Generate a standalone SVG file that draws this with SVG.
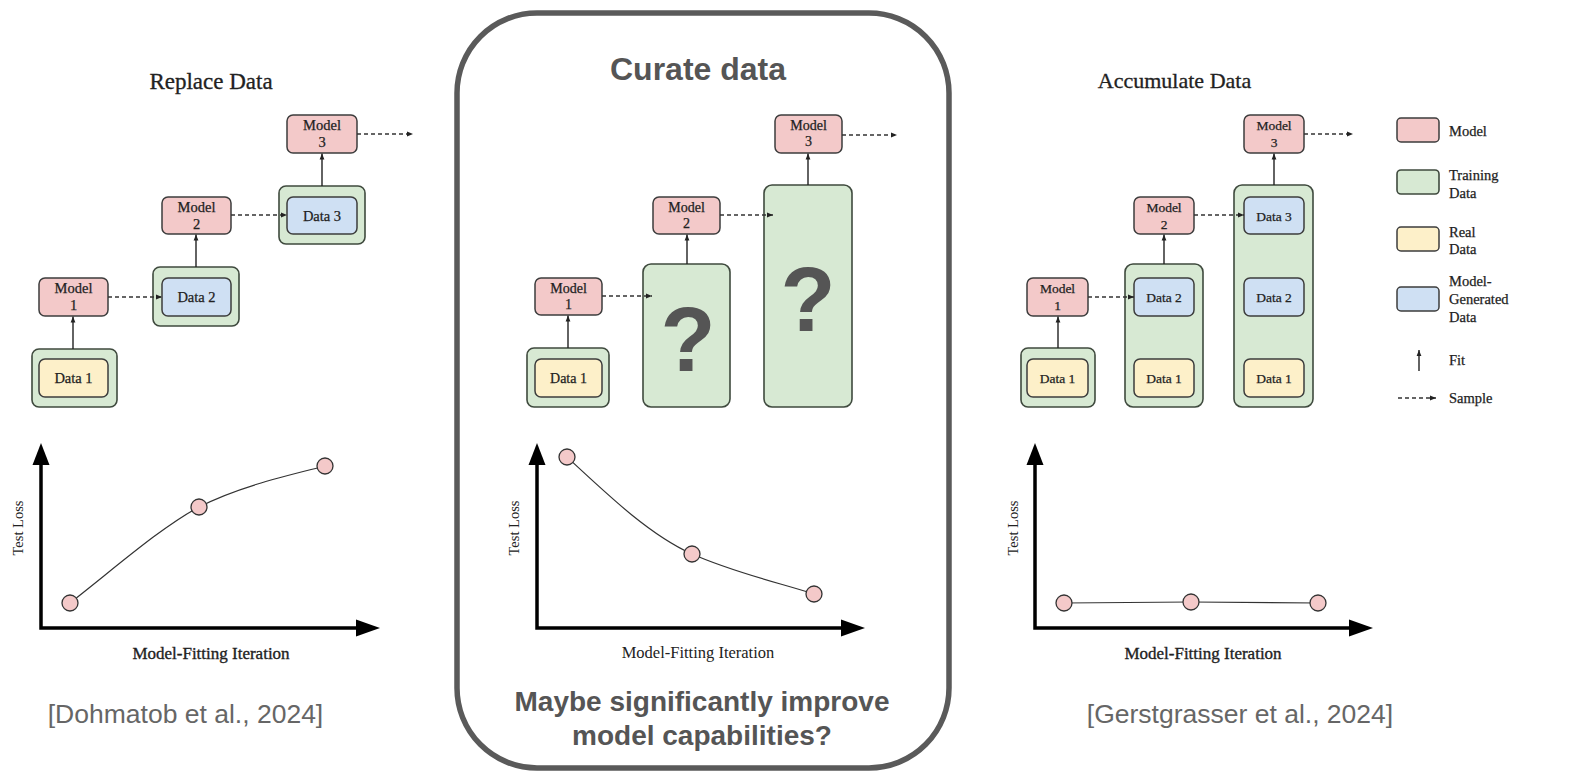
<svg xmlns="http://www.w3.org/2000/svg" width="1591" height="772" viewBox="0 0 1591 772">
  <defs>
    <style>
      .model { fill: #f3c9c9; stroke: #3d3d3d; stroke-width: 1.5; }
      .train { fill: #d7e9d3; stroke: #3f4a3e; stroke-width: 1.6; }
      .real { fill: #fdf0c9; stroke: #3d3d3d; stroke-width: 1.5; }
      .gen { fill: #cfe0f3; stroke: #3d3d3d; stroke-width: 1.5; }
      .lbl { font-family: "Liberation Serif", "Times New Roman", serif; fill: #222; stroke: #222; stroke-width: 0.25; text-anchor: middle; }
      .n1 { font-size: 14.5px; }
      .n2 { font-size: 14px; }
      .n3 { font-size: 13.5px; }
      .title { font-family: "Liberation Serif", "Times New Roman", serif; fill: #222; stroke: #222; stroke-width: 0.3; text-anchor: middle; }
      .leg { font-family: "Liberation Serif", "Times New Roman", serif; fill: #222; stroke: #222; stroke-width: 0.25; font-size: 14.5px; }
      .fit { stroke: #222; stroke-width: 1.4; fill: none; marker-end: url(#fitHead); }
      .smp { stroke: #333; stroke-width: 1.5; fill: none; stroke-dasharray: 4 3; marker-end: url(#smpHead); }
      .axis { stroke: #000; stroke-width: 3.5; fill: none; }
      .head { fill: #000; }
      .curve { stroke: #333; stroke-width: 1.2; fill: none; }
      .pt { fill: #f4c9c9; stroke: #333; stroke-width: 1.3; }
      .axlbl { font-family: "Liberation Serif", "Times New Roman", serif; fill: #222; text-anchor: middle; }
      .xl { stroke: #222; stroke-width: 0.35; }
      .cite { font-family: "Liberation Sans", Arial, sans-serif; fill: #666; font-size: 26.5px; text-anchor: middle; }
      .bigq { font-family: "Liberation Sans", Arial, sans-serif; font-weight: bold; fill: #555; font-size: 90px; text-anchor: middle; }
      .hl { font-family: "Liberation Sans", Arial, sans-serif; font-weight: bold; fill: #555; text-anchor: middle; }
    </style>
    <marker id="fitHead" viewBox="0 0 10 10" refX="10" refY="5" markerWidth="6" markerHeight="6" markerUnits="userSpaceOnUse" orient="auto">
      <path d="M0,1 L10,5 L0,9 Z" fill="#222"/>
    </marker>
    <marker id="smpHead" viewBox="0 0 10 10" refX="10" refY="5" markerWidth="6" markerHeight="6" markerUnits="userSpaceOnUse" orient="auto">
      <path d="M0,1 L10,5 L0,9 Z" fill="#222"/>
    </marker>
  </defs>

  <rect width="1591" height="772" fill="#ffffff"/>

  <!-- ===== Left panel: Replace Data ===== -->
  <text class="title" x="211" y="89" font-size="23">Replace Data</text>

  <g id="left-data1">
    <rect class="train" x="32" y="349" width="85" height="58" rx="7"/>
    <rect class="real" x="39" y="359" width="69" height="38" rx="6"/>
    <text class="lbl n1" x="73.5" y="383">Data 1</text>
  </g>
  <g id="left-model1">
    <rect class="model" x="39" y="278" width="69" height="38" rx="6"/>
    <text class="lbl n1" x="73.5" y="293">Model</text>
    <text class="lbl n1" x="73.5" y="310">1</text>
  </g>
  <g id="left-data2">
    <rect class="train" x="153" y="267" width="86" height="59" rx="7"/>
    <rect class="gen" x="162" y="278" width="69" height="38" rx="6"/>
    <text class="lbl n1" x="196.5" y="302">Data 2</text>
  </g>
  <g id="left-model2">
    <rect class="model" x="162" y="197" width="69" height="37" rx="6"/>
    <text class="lbl n1" x="196.5" y="212">Model</text>
    <text class="lbl n1" x="196.5" y="229">2</text>
  </g>
  <g id="left-data3">
    <rect class="train" x="279" y="186" width="86" height="58" rx="7"/>
    <rect class="gen" x="287" y="197" width="70" height="37" rx="6"/>
    <text class="lbl n1" x="322" y="221">Data 3</text>
  </g>
  <g id="left-model3">
    <rect class="model" x="287" y="115" width="70" height="38" rx="6"/>
    <text class="lbl n1" x="322" y="130">Model</text>
    <text class="lbl n1" x="322" y="147">3</text>
  </g>

  <!-- ===== Middle panel: Curate data ===== -->
  <rect x="457" y="13" width="492" height="755" rx="80" ry="80" fill="none" stroke="#5a5a5a" stroke-width="5.5"/>
  <text class="hl" x="698" y="80" font-size="32">Curate data</text>

  <g id="mid-data1">
    <rect class="train" x="527" y="348" width="82" height="59" rx="7"/>
    <rect class="real" x="535" y="359" width="67" height="38" rx="6"/>
    <text class="lbl n2" x="568.5" y="383">Data 1</text>
  </g>
  <g id="mid-model1">
    <rect class="model" x="535" y="278" width="67" height="37" rx="6"/>
    <text class="lbl n2" x="568.5" y="293">Model</text>
    <text class="lbl n2" x="568.5" y="309">1</text>
  </g>
  <g id="mid-data2">
    <rect class="train" x="643" y="264" width="87" height="143" rx="8"/>
    <text class="bigq" x="688" y="371">?</text>
  </g>
  <g id="mid-model2">
    <rect class="model" x="653" y="197" width="67" height="37" rx="6"/>
    <text class="lbl n2" x="686.5" y="212">Model</text>
    <text class="lbl n2" x="686.5" y="228">2</text>
  </g>
  <g id="mid-data3">
    <rect class="train" x="764" y="185" width="88" height="222" rx="8"/>
    <text class="bigq" x="808" y="331">?</text>
  </g>
  <g id="mid-model3">
    <rect class="model" x="775" y="115" width="67" height="38" rx="6"/>
    <text class="lbl n2" x="808.5" y="130">Model</text>
    <text class="lbl n2" x="808.5" y="146">3</text>
  </g>

  <!-- ===== Right panel: Accumulate Data ===== -->
  <text class="title" x="1174.5" y="88" font-size="22">Accumulate Data</text>

  <g id="right-data1">
    <rect class="train" x="1021" y="348" width="74" height="59" rx="7"/>
    <rect class="real" x="1027" y="359" width="61" height="38" rx="6"/>
    <text class="lbl n3" x="1057.5" y="383">Data 1</text>
  </g>
  <g id="right-model1">
    <rect class="model" x="1027" y="278" width="61" height="38" rx="6"/>
    <text class="lbl n3" x="1057.5" y="293">Model</text>
    <text class="lbl n3" x="1057.5" y="310">1</text>
  </g>
  <g id="right-data2">
    <rect class="train" x="1125" y="264" width="78" height="143" rx="8"/>
    <rect class="gen" x="1134" y="278" width="60" height="38" rx="6"/>
    <text class="lbl n3" x="1164" y="302">Data 2</text>
    <rect class="real" x="1134" y="359" width="60" height="38" rx="6"/>
    <text class="lbl n3" x="1164" y="383">Data 1</text>
  </g>
  <g id="right-model2">
    <rect class="model" x="1134" y="197" width="60" height="37" rx="6"/>
    <text class="lbl n3" x="1164" y="212">Model</text>
    <text class="lbl n3" x="1164" y="229">2</text>
  </g>
  <g id="right-data3">
    <rect class="train" x="1234" y="185" width="79" height="222" rx="8"/>
    <rect class="gen" x="1244" y="197" width="60" height="37" rx="6"/>
    <text class="lbl n3" x="1274" y="221">Data 3</text>
    <rect class="gen" x="1244" y="278" width="60" height="38" rx="6"/>
    <text class="lbl n3" x="1274" y="302">Data 2</text>
    <rect class="real" x="1244" y="359" width="60" height="38" rx="6"/>
    <text class="lbl n3" x="1274" y="383">Data 1</text>
  </g>
  <g id="right-model3">
    <rect class="model" x="1244" y="115" width="60" height="38" rx="6"/>
    <text class="lbl n3" x="1274" y="130">Model</text>
    <text class="lbl n3" x="1274" y="147">3</text>
  </g>

  <!-- ===== Legend ===== -->
  <g id="legend">
    <rect class="model" x="1397" y="118" width="42" height="24" rx="4"/>
    <text class="leg" x="1449" y="136">Model</text>
    <rect class="train" x="1397" y="170" width="42" height="24" rx="4"/>
    <text class="leg" x="1449" y="180">Training</text>
    <text class="leg" x="1449" y="198">Data</text>
    <rect class="real" x="1397" y="227" width="42" height="24" rx="4"/>
    <text class="leg" x="1449" y="237">Real</text>
    <text class="leg" x="1449" y="254">Data</text>
    <rect class="gen" x="1397" y="287" width="42" height="24" rx="4"/>
    <text class="leg" x="1449" y="286">Model-</text>
    <text class="leg" x="1449" y="304">Generated</text>
    <text class="leg" x="1449" y="322">Data</text>
    <line class="fit" x1="1419" y1="371" x2="1419" y2="350"/>
    <text class="leg" x="1449" y="365">Fit</text>
    <line class="smp" x1="1398" y1="398" x2="1436" y2="398"/>
    <text class="leg" x="1449" y="403">Sample</text>
  </g>

  <!-- ===== Connectors: fit (solid) and sample (dashed) ===== -->
  <g id="connectors">
    <line class="fit" x1="73" y1="349" x2="73" y2="316.5"/>
    <line class="fit" x1="196" y1="267" x2="196" y2="234.5"/>
    <line class="fit" x1="322" y1="186" x2="322" y2="153.5"/>
    <line class="smp" x1="108" y1="297" x2="162" y2="297"/>
    <line class="smp" x1="231" y1="215" x2="287" y2="215"/>
    <line class="smp" x1="357" y1="134" x2="413" y2="134"/>

    <line class="fit" x1="568" y1="348" x2="568" y2="315.5"/>
    <line class="fit" x1="687" y1="264" x2="687" y2="234.5"/>
    <line class="fit" x1="808" y1="185" x2="808" y2="153.5"/>
    <line class="smp" x1="602" y1="296" x2="652" y2="296"/>
    <line class="smp" x1="720" y1="215" x2="773" y2="215"/>
    <line class="smp" x1="842" y1="135" x2="897" y2="135"/>

    <line class="fit" x1="1058" y1="348" x2="1058" y2="316.5"/>
    <line class="fit" x1="1164" y1="264" x2="1164" y2="234.5"/>
    <line class="fit" x1="1274" y1="185" x2="1274" y2="153.5"/>
    <line class="smp" x1="1088" y1="297" x2="1134" y2="297"/>
    <line class="smp" x1="1194" y1="215" x2="1244" y2="215"/>
    <line class="smp" x1="1304" y1="134" x2="1353" y2="134"/>
  </g>

  <!-- ===== Charts: test loss vs. model-fitting iteration ===== -->
  <g id="chart-left">
    <path class="axis" d="M41,464 V628 H357"/>
    <path class="head" d="M41,443 L49.5,465 L32.5,465 Z"/>
    <path class="head" d="M380,628 L356,619.5 L356,636.5 Z"/>
    <path class="curve" d="M70,603 C115,568 160,528 199,507 C240,486 290,475 325,466"/>
    <circle class="pt" cx="70" cy="603" r="8"/>
    <circle class="pt" cx="199" cy="507" r="8"/>
    <circle class="pt" cx="325" cy="466" r="8"/>
    <text class="axlbl" font-size="14.5" transform="translate(23,528) rotate(-90)">Test Loss</text>
    <text class="axlbl xl" font-size="17" x="211" y="659">Model-Fitting Iteration</text>
  </g>

  <g id="chart-mid">
    <path class="axis" d="M537,464 V628 H842"/>
    <path class="head" d="M537,443 L545.5,465 L528.5,465 Z"/>
    <path class="head" d="M865,628 L841,619.5 L841,636.5 Z"/>
    <path class="curve" d="M567,457 C610,497 650,535 692,554 C735,573 780,583 814,594"/>
    <circle class="pt" cx="567" cy="457" r="8"/>
    <circle class="pt" cx="692" cy="554" r="8"/>
    <circle class="pt" cx="814" cy="594" r="8"/>
    <text class="axlbl" font-size="14.5" transform="translate(519,528) rotate(-90)">Test Loss</text>
    <text class="axlbl" font-size="16.5" x="698" y="658">Model-Fitting Iteration</text>
  </g>

  <g id="chart-right">
    <path class="axis" d="M1035,464 V628 H1350"/>
    <path class="head" d="M1035,443 L1043.5,465 L1026.5,465 Z"/>
    <path class="head" d="M1373,628 L1349,619.5 L1349,636.5 Z"/>
    <path class="curve" d="M1064,603 L1191,602 L1318,603"/>
    <circle class="pt" cx="1064" cy="603" r="8"/>
    <circle class="pt" cx="1191" cy="602" r="8"/>
    <circle class="pt" cx="1318" cy="603" r="8"/>
    <text class="axlbl" font-size="14.5" transform="translate(1018,528) rotate(-90)">Test Loss</text>
    <text class="axlbl xl" font-size="17" x="1203" y="659">Model-Fitting Iteration</text>
  </g>

  <!-- ===== Captions ===== -->
  <text class="cite" x="185.5" y="723">[Dohmatob et al., 2024]</text>
  <text class="cite" x="1240" y="723">[Gerstgrasser et al., 2024]</text>
  <text class="hl" x="702" y="711" font-size="28">Maybe significantly improve</text>
  <text class="hl" x="702" y="745" font-size="28">model capabilities?</text>
</svg>
